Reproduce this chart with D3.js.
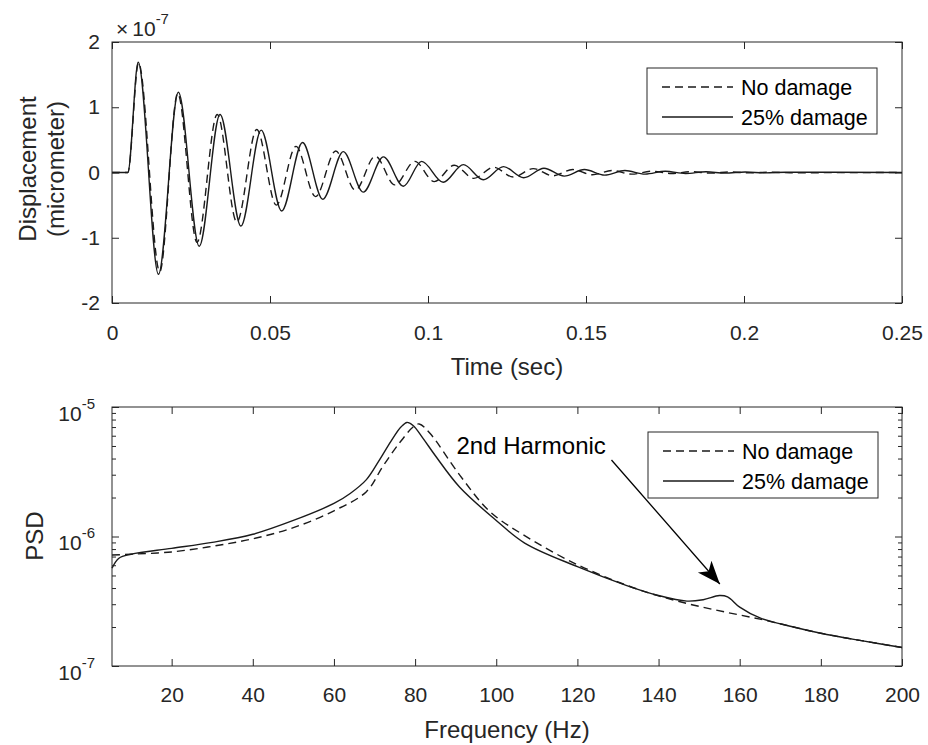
<!DOCTYPE html>
<html>
<head>
<meta charset="utf-8">
<script src="https://cdn.jsdelivr.net/npm/d3@7"></script>
<style>
  body { margin: 0; background: #fff; }
  svg { display: block; font-family: "Liberation Sans", Arial, sans-serif; }
  .axis text { fill: #262626; font-size: 21px; font-family: "Liberation Sans", Arial, sans-serif; }
  .axis line { stroke: #262626; }
  .axis path { display: none; }
</style>
</head>
<body>
<div id="chart"></div>
<script>
// displacement in units of 1e-7 (axis multiplier shown as x10^-7)
var timeNoDamage = [0, 0.005, 0.0084, 0.0151, 0.0208, 0.0269, 0.0333, 0.0395, 0.0458, 0.0520, 0.0582, 0.0644, 0.0708, 0.0770, 0.0833, 0.0895, 0.0958, 0.1020, 0.1083, 0.1145, 0.1208, 0.1270, 0.1333, 0.1395, 0.1458, 0.1520, 0.1583, 0.1645, 0.1708, 0.1770, 0.1833, 0.1895, 0.1958, 0.2020, 0.2083, 0.2145, 0.25];
var dispNoDamage = [0, 0, 1.68, -1.52, 1.21, -1.07, 0.89, -0.76, 0.66, -0.50, 0.40, -0.37, 0.33, -0.27, 0.25, -0.19, 0.17, -0.14, 0.11, -0.09, 0.08, -0.07, 0.06, -0.05, 0.045, -0.035, 0.03, -0.025, 0.02, -0.015, 0.012, -0.01, 0.008, -0.006, 0.004, -0.003, 0];

var timeDamage = [0, 0.005, 0.0083, 0.0147, 0.0210, 0.0276, 0.0342, 0.0408, 0.0472, 0.0537, 0.0603, 0.0667, 0.0732, 0.0795, 0.0859, 0.0922, 0.0980, 0.1048, 0.1112, 0.1175, 0.1239, 0.1303, 0.1367, 0.1431, 0.1495, 0.1559, 0.1623, 0.1687, 0.1751, 0.1815, 0.1880, 0.1940, 0.2004, 0.2068, 0.2132, 0.25];
var dispDamage = [0, 0, 1.69, -1.56, 1.23, -1.13, 0.89, -0.82, 0.65, -0.59, 0.46, -0.41, 0.32, -0.30, 0.24, -0.21, 0.17, -0.15, 0.12, -0.11, 0.09, -0.08, 0.065, -0.055, 0.045, -0.04, 0.03, -0.025, 0.02, -0.015, 0.012, -0.01, 0.008, -0.006, 0.004, 0];

var freqNoDamage = [5.3, 10, 20, 30, 40, 50, 60, 68, 72, 76, 79.5, 81, 83.6, 91, 98.4, 107.4, 119.8, 132, 140, 148.5, 156.7, 165, 173, 180, 190, 200];
var psdNoDamage = [7.2e-7, 7.3e-7, 7.6e-7, 8.4e-7, 9.6e-7, 1.17e-6, 1.58e-6, 2.22e-6, 3.46e-6, 5.2e-6, 7.0e-6, 7.4e-6, 6.3e-6, 2.98e-6, 1.56e-6, 9.98e-7, 6.1e-7, 4.22e-7, 3.48e-7, 2.96e-7, 2.6e-7, 2.3e-7, 2.01e-7, 1.79e-7, 1.57e-7, 1.39e-7];

var freqDamage = [5.3, 7, 10, 20, 30, 40, 50, 60, 64, 68, 71, 74, 76.5, 78, 79.5, 82, 85, 91, 100, 107, 120, 132, 140, 147, 151, 155, 157, 160, 165, 173, 180, 190, 200];
var psdDamage = [5.7e-7, 6.8e-7, 7.3e-7, 8.1e-7, 9.0e-7, 1.04e-6, 1.33e-6, 1.8e-6, 2.15e-6, 2.75e-6, 3.8e-6, 5.4e-6, 7.0e-6, 7.6e-6, 7.2e-6, 5.7e-6, 4.2e-6, 2.4e-6, 1.33e-6, 8.9e-7, 5.85e-7, 4.2e-7, 3.5e-7, 3.17e-7, 3.25e-7, 3.5e-7, 3.42e-7, 2.85e-7, 2.35e-7, 2.01e-7, 1.79e-7, 1.57e-7, 1.39e-7];

var timeTicks = [0, 0.05, 0.1, 0.15, 0.2, 0.25];
var dispTicks = [-2, -1, 0, 1, 2];
var freqTicks = [20, 40, 60, 80, 100, 120, 140, 160, 180, 200];
var psdTicks = [1e-7, 1e-6, 1e-5];
var psdMinor = [2e-7, 3e-7, 4e-7, 5e-7, 6e-7, 7e-7, 8e-7, 9e-7, 2e-6, 3e-6, 4e-6, 5e-6, 6e-6, 7e-6, 8e-6, 9e-6];
var legendLabels = ["No damage", "25% damage"];

var W = 928, H = 745;
var svg = d3.select("#chart").append("svg").attr("width", W).attr("height", H);
svg.append("rect").attr("width", W).attr("height", H).attr("fill", "#fff");

var lineColor = "#1a1a1a";
var dashes = "8,5";
var labelSize = "24px";

// ---------- top panel ----------
var x1 = d3.scaleLinear().domain([0, 0.25]).range([112, 902]);
var y1 = d3.scaleLinear().domain([-2, 2]).range([303, 42]);

var gTop = svg.append("g");

gTop.append("g").attr("class", "axis").attr("transform", "translate(0,303)")
  .call(d3.axisBottom(x1).tickValues(timeTicks).tickSize(-7).tickSizeOuter(0).tickPadding(22)
    .tickFormat(function(d) { return String(+d.toFixed(2)); }));
gTop.append("g").attr("class", "axis").attr("transform", "translate(0,42)")
  .call(d3.axisTop(x1).tickValues(timeTicks).tickSize(-7).tickSizeOuter(0).tickFormat(""));
gTop.append("g").attr("class", "axis").attr("transform", "translate(112,0)")
  .call(d3.axisLeft(y1).tickValues(dispTicks).tickSize(-7).tickSizeOuter(0).tickPadding(12)
    .tickFormat(function(d) { return String(d); }));
gTop.append("g").attr("class", "axis").attr("transform", "translate(902,0)")
  .call(d3.axisRight(y1).tickValues(dispTicks).tickSize(-7).tickSizeOuter(0).tickFormat(""));

var line1 = d3.line().curve(d3.curveMonotoneX)
  .x(function(d) { return x1(d[0]); }).y(function(d) { return y1(d[1]); });

gTop.append("path").datum(d3.zip(timeNoDamage, dispNoDamage))
  .attr("d", line1).attr("fill", "none").attr("stroke", lineColor)
  .attr("stroke-width", 1.4).attr("stroke-dasharray", dashes);
gTop.append("path").datum(d3.zip(timeDamage, dispDamage))
  .attr("d", line1).attr("fill", "none").attr("stroke", lineColor).attr("stroke-width", 1.4);

gTop.append("rect").attr("x", 112).attr("y", 42).attr("width", 790).attr("height", 261)
  .attr("fill", "none").attr("stroke", "#262626").attr("stroke-width", 1);

// multiplier
var mult = gTop.append("text").attr("x", 116).attr("y", 36).attr("fill", "#262626").style("font-size", "21px");
mult.append("tspan").text("\u00d7");
mult.append("tspan").attr("dx", 4).text("10");
mult.append("tspan").attr("dy", -12).style("font-size", "15px").text("-7");

gTop.append("text").attr("x", 507).attr("y", 375).attr("text-anchor", "middle")
  .attr("fill", "#262626").style("font-size", labelSize).text("Time (sec)");
gTop.append("text").attr("transform", "translate(36,169) rotate(-90)").attr("text-anchor", "middle")
  .attr("fill", "#262626").style("font-size", labelSize).text("Displacement");
gTop.append("text").attr("transform", "translate(64,169) rotate(-90)").attr("text-anchor", "middle")
  .attr("fill", "#262626").style("font-size", labelSize).text("(micrometer)");

// ---------- bottom panel ----------
var x2 = d3.scaleLinear().domain([5.3, 200]).range([112, 902]);
var y2 = d3.scaleLog().domain([1e-7, 1e-5]).range([666, 407]);

var gBot = svg.append("g");

gBot.append("g").attr("class", "axis").attr("transform", "translate(0,666)")
  .call(d3.axisBottom(x2).tickValues(freqTicks).tickSize(-7).tickSizeOuter(0).tickPadding(21));
gBot.append("g").attr("class", "axis").attr("transform", "translate(0,407)")
  .call(d3.axisTop(x2).tickValues(freqTicks).tickSize(-7).tickSizeOuter(0).tickFormat(""));

var yl = gBot.append("g").attr("class", "axis").attr("transform", "translate(112,0)")
  .call(d3.axisLeft(y2).tickValues(psdTicks).tickSize(-7).tickSizeOuter(0).tickPadding(17));
yl.selectAll("text").attr("dy", "0.62em").each(function(d) {
  var t = d3.select(this).text("");
  t.append("tspan").text("10");
  t.append("tspan").attr("dy", -12).style("font-size", "15px").text(Math.round(Math.log10(d)));
});
gBot.append("g").attr("class", "axis").attr("transform", "translate(112,0)")
  .call(d3.axisLeft(y2).tickValues(psdMinor).tickSize(-4).tickSizeOuter(0).tickFormat(""));
gBot.append("g").attr("class", "axis").attr("transform", "translate(902,0)")
  .call(d3.axisRight(y2).tickValues(psdTicks).tickSize(-7).tickSizeOuter(0).tickFormat(""));
gBot.append("g").attr("class", "axis").attr("transform", "translate(902,0)")
  .call(d3.axisRight(y2).tickValues(psdMinor).tickSize(-4).tickSizeOuter(0).tickFormat(""));

var line2 = d3.line().curve(d3.curveCatmullRom.alpha(0.5))
  .x(function(d) { return x2(d[0]); }).y(function(d) { return y2(d[1]); });

gBot.append("path").datum(d3.zip(freqNoDamage, psdNoDamage))
  .attr("d", line2).attr("fill", "none").attr("stroke", lineColor)
  .attr("stroke-width", 1.4).attr("stroke-dasharray", dashes);
gBot.append("path").datum(d3.zip(freqDamage, psdDamage))
  .attr("d", line2).attr("fill", "none").attr("stroke", lineColor).attr("stroke-width", 1.4);

gBot.append("rect").attr("x", 112).attr("y", 407).attr("width", 790).attr("height", 259)
  .attr("fill", "none").attr("stroke", "#262626").attr("stroke-width", 1);

gBot.append("text").attr("x", 507).attr("y", 738).attr("text-anchor", "middle")
  .attr("fill", "#262626").style("font-size", labelSize).text("Frequency (Hz)");
gBot.append("text").attr("transform", "translate(43,536) rotate(-90)").attr("text-anchor", "middle")
  .attr("fill", "#262626").style("font-size", labelSize).text("PSD");

// annotation arrow
svg.append("defs").append("marker").attr("id", "head")
  .attr("markerUnits", "userSpaceOnUse").attr("markerWidth", 26).attr("markerHeight", 20)
  .attr("refX", 23).attr("refY", 9).attr("orient", "auto")
  .append("path").attr("d", "M0,0 L23,9 L0,18 L6,9 Z").attr("fill", "#000");

gBot.append("line")
  .attr("x1", x2(128.4)).attr("y1", y2(3.9e-6))
  .attr("x2", x2(155.1)).attr("y2", y2(4.3e-7))
  .attr("stroke", "#000").attr("stroke-width", 1.3).attr("marker-end", "url(#head)");
gBot.append("text").attr("x", x2(90.2)).attr("y", y2(5.0e-6)).attr("dy", "0.35em")
  .attr("fill", "#000").style("font-size", "24px").text("2nd Harmonic");

// ---------- legends ----------
function legend(g, x, y) {
  g.append("rect").attr("x", x).attr("y", y).attr("width", 230).attr("height", 66)
    .attr("fill", "#fff").attr("stroke", "#262626").attr("stroke-width", 1);
  legendLabels.forEach(function(lab, i) {
    var cy = y + 19 + i * 30;
    g.append("line").attr("x1", x + 15).attr("x2", x + 86).attr("y1", cy).attr("y2", cy)
      .attr("stroke", lineColor).attr("stroke-width", 1.3)
      .attr("stroke-dasharray", i === 0 ? dashes : null);
    g.append("text").attr("x", x + 94).attr("y", cy).attr("dy", "0.35em")
      .attr("fill", "#000").style("font-size", "21.5px").text(lab);
  });
}
legend(gTop, 647, 68);
legend(gBot, 648, 432);
</script>
</body>
</html>
